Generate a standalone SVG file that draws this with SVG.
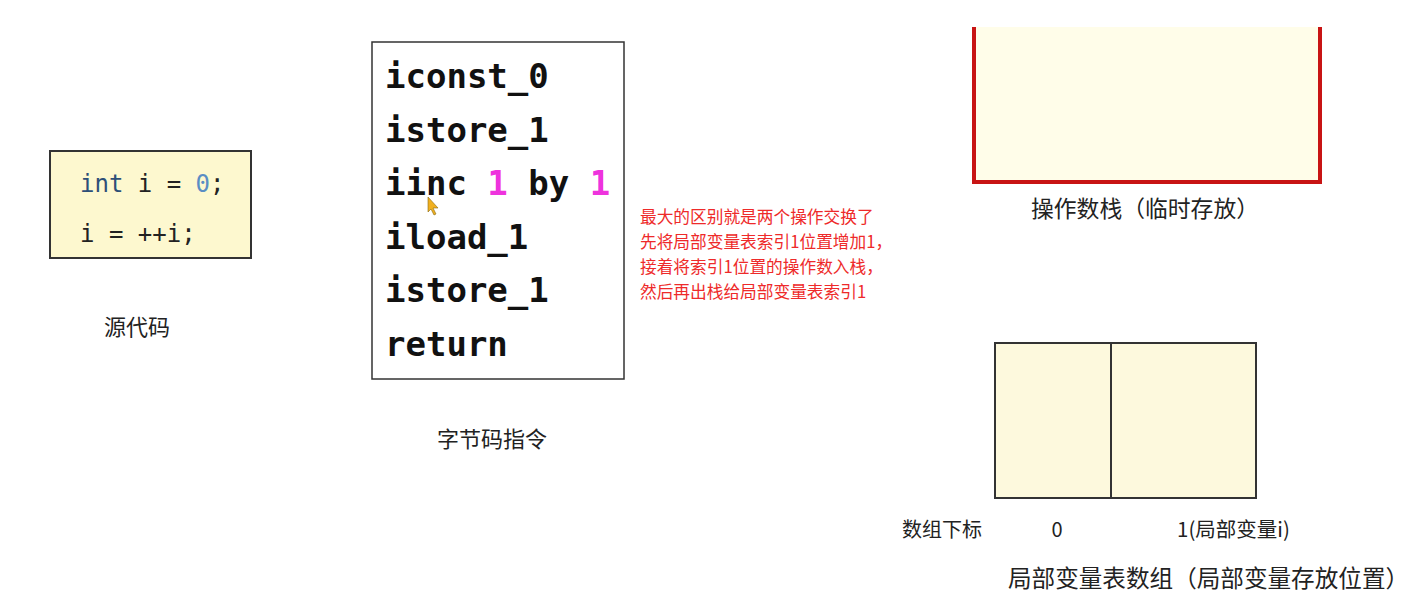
<svg xmlns="http://www.w3.org/2000/svg" width="1423" height="597" viewBox="0 0 1423 597">
<style>
.cjk{font-family:"Noto Sans CJK SC","Noto Sans",sans-serif;fill:#222}
.mono{font-family:"DejaVu Sans Mono","Liberation Mono",monospace}
.bc{font-family:"DejaVu Sans Mono","Liberation Mono",monospace;font-weight:bold;font-size:34px;fill:#111}
.mag{fill:#ee33dd}
.red{font-family:"Noto Sans CJK SC","Noto Sans",sans-serif;font-size:16.7px;fill:#ee2a2a}
</style>
<rect width="1423" height="597" fill="#ffffff"/>
<g id="source">
<rect x="50" y="151" width="201" height="107" fill="#fdf8cf" stroke="#333" stroke-width="2"/>
<text class="mono" x="80" y="192" font-size="24" fill="#222"><tspan fill="#2d4f78">int</tspan> i = <tspan fill="#5a8ec4">0</tspan>;</text>
<text class="mono" x="80" y="242" font-size="24" fill="#222">i = ++i;</text>
<text class="cjk" x="104" y="335" font-size="22">源代码</text>
</g>
<g id="bytecode">
<rect x="372" y="42" width="252" height="337" fill="#ffffff" stroke="#333" stroke-width="1.5"/>
<text class="bc" x="385" y="88">iconst_0</text>
<text class="bc" x="385" y="142">istore_1</text>
<text class="bc" x="385" y="195">iinc <tspan class="mag">1</tspan> by <tspan class="mag">1</tspan></text>
<text class="bc" x="385" y="249">iload_1</text>
<text class="bc" x="385" y="302">istore_1</text>
<text class="bc" x="385" y="356">return</text>
<polygon points="428,197 428,212 431,209 434,215 436,214 433,208 438,208" fill="#f0b020" stroke="#8a6a10" stroke-width="0.6"/>
<text class="cjk" x="437" y="447" font-size="22">字节码指令</text>
</g>
<g id="note">
<text class="red" x="640" y="223">最大的区别就是两个操作交换了</text>
<text class="red" x="640" y="248">先将局部变量表索引1位置增加1，</text>
<text class="red" x="640" y="273">接着将索引1位置的操作数入栈，</text>
<text class="red" x="640" y="298">然后再出栈给局部变量表索引1</text>
</g>
<g id="stack">
<rect x="974" y="27" width="346" height="155" fill="#fffde9"/>
<polyline points="974,27 974,182 1320,182 1320,27" fill="none" stroke="#c81414" stroke-width="4"/>
<text class="cjk" x="1145" y="217" font-size="22.8" text-anchor="middle">操作数栈（临时存放）</text>
</g>
<g id="locals">
<rect x="995" y="343" width="261" height="155" fill="#fdf9dd" stroke="#333" stroke-width="2"/>
<line x1="1111" y1="343" x2="1111" y2="498" stroke="#333" stroke-width="2"/>
<text class="cjk" x="902" y="537" font-size="20">数组下标</text>
<text class="cjk" x="1057" y="537" font-size="20" text-anchor="middle">0</text>
<text class="cjk" x="1177" y="537" font-size="20.5">1(局部变量i)</text>
<text class="cjk" x="1008" y="587" font-size="23.6">局部变量表数组（局部变量存放位置）</text>
</g>
</svg>
